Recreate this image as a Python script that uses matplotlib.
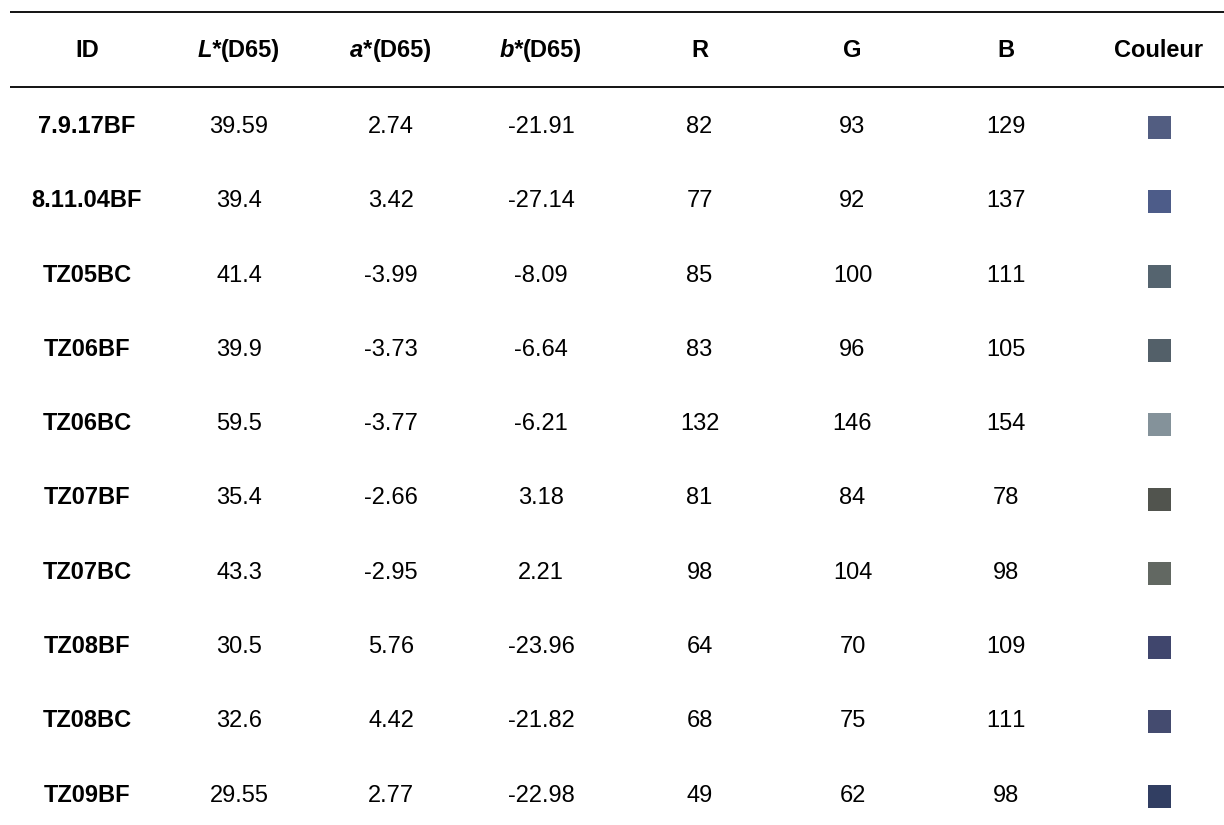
import matplotlib.pyplot as plt
from matplotlib.patches import Rectangle

plt.rcParams['font.family'] = ['Liberation Sans', 'DejaVu Sans']
plt.rcParams['text.kerning_factor'] = 20  # practically no kerning, like the source

# table data
ids = ['7.9.17BF', '8.11.04BF', 'TZ05BC', 'TZ06BF', 'TZ06BC',
       'TZ07BF', 'TZ07BC', 'TZ08BF', 'TZ08BC', 'TZ09BF']
L_vals = ['39.59', '39.4', '41.4', '39.9', '59.5', '35.4', '43.3', '30.5', '32.6', '29.55']
a_vals = ['2.74', '3.42', '-3.99', '-3.73', '-3.77', '-2.66', '-2.95', '5.76', '4.42', '2.77']
b_vals = ['-21.91', '-27.14', '-8.09', '-6.64', '-6.21', '3.18', '2.21', '-23.96', '-21.82', '-22.98']
R = [82, 77, 85, 83, 132, 81, 98, 64, 68, 49]
G = [93, 92, 100, 96, 146, 84, 104, 70, 75, 62]
B = [129, 137, 111, 105, 154, 78, 98, 109, 111, 98]

# header: (italic part, regular part)
headers = [('', 'ID'), ('L*', '(D65)'), ('a*', '(D65)'), ('b*', '(D65)'),
           ('', 'R'), ('', 'G'), ('', 'B'), ('', 'Couleur')]

# layout (pixel units)
W, H = 1224, 825
col_x = [87, 239, 391, 541, 699.5, 852.5, 1006, 1159]
head_base = 57.3
row_base0 = 133.0
row_step = 74.3
fs = 17
sq = 23

fig = plt.figure(figsize=(W / 100, H / 100), dpi=100)
ax = fig.add_axes([0, 0, 1, 1])
ax.set_xlim(0, W)
ax.set_ylim(H, 0)
ax.axis('off')

# rules
ax.plot([10, W], [12, 12], color='black', lw=1.3, solid_capstyle='butt')
ax.plot([10, W], [87, 87], color='black', lw=1.3, solid_capstyle='butt')

renderer = fig.canvas.get_renderer()

# header row
for cx, (ital, reg) in zip(col_x, headers):
    if not ital:
        ax.text(cx, head_base, reg, ha='center', va='baseline',
                fontsize=fs, fontweight='bold')
        continue
    t1 = ax.text(0, head_base, ital, ha='left', va='baseline',
                 fontsize=fs, fontweight='bold', fontstyle='italic')
    t2 = ax.text(0, head_base, reg, ha='left', va='baseline',
                 fontsize=fs, fontweight='bold')
    w1 = t1.get_window_extent(renderer).width
    w2 = t2.get_window_extent(renderer).width
    x0 = cx - (w1 + w2) / 2
    t1.set_x(x0)
    t2.set_x(x0 + w1)

# body rows
for i in range(len(ids)):
    yb = row_base0 + row_step * i
    ax.text(col_x[0], yb, ids[i], ha='center', va='baseline',
            fontsize=fs, fontweight='bold')
    cells = [L_vals[i], a_vals[i], b_vals[i], str(R[i]), str(G[i]), str(B[i])]
    for cx, s in zip(col_x[1:7], cells):
        ax.text(cx, yb, s, ha='center', va='baseline', fontsize=fs)
    color = (R[i] / 255, G[i] / 255, B[i] / 255)
    ax.add_patch(Rectangle((col_x[7] - sq / 2, yb - 6 - sq / 2 + 0.5), sq, sq,
                           facecolor=color, edgecolor='none'))

fig.savefig('out.png', dpi=100, facecolor='white')
